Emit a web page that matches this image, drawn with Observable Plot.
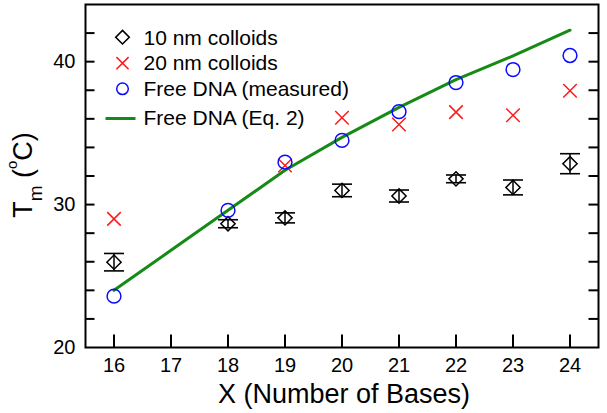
<!DOCTYPE html>
<html><head><meta charset="utf-8">
<script src="https://cdn.jsdelivr.net/npm/d3@7"></script>
<script src="https://cdn.jsdelivr.net/npm/@observablehq/plot@0.6"></script>
<style>body{margin:0;background:#fff}</style>
</head><body><div id="chart"></div>
<script>
// ---- data ----
const bases = [16, 18, 19, 20, 21, 22, 23, 24];
const tm10 = [25.97, 28.66, 29.07, 30.99, 30.6, 31.8, 31.2, 32.86];
const tm10Err = [0.61, 0.28, 0.35, 0.44, 0.42, 0.27, 0.52, 0.7];
const bases20 = [16, 19, 20, 21, 22, 23, 24];
const tm20 = [29.0, 32.74, 36.07, 35.6, 36.47, 36.25, 37.96];
const tmFree = [23.59, 29.59, 32.97, 34.49, 36.5, 38.54, 39.45, 40.43];
const basesEq = [16, 17, 18, 19, 20, 21, 22, 23, 24];
const tmEq = [24.0, 26.8, 29.6, 32.4, 34.7, 36.8, 38.75, 40.4, 42.2];
const xTicks = [16, 17, 18, 19, 20, 21, 22, 23, 24];
const yTicks = [22, 24, 26, 28, 30, 32, 34, 36, 38, 40, 42];
const yLabels = [20, 30, 40];
const legendLabels = ["10 nm colloids", "20 nm colloids", "Free DNA (measured)", "Free DNA (Eq. 2)"];

// ---- tables ----
const d10 = bases.map((x, i) => ({x, y: tm10[i], lo: tm10[i] - tm10Err[i], hi: tm10[i] + tm10Err[i]}));
const d20 = bases20.map((x, i) => ({x, y: tm20[i]}));
const dFree = bases.map((x, i) => ({x, y: tmFree[i]}));
const dEq = basesEq.map((x, i) => ({x, y: tmEq[i]}));

const seg = (dx, dy) => ({draw(ctx) { ctx.moveTo(0, 0); ctx.lineTo(dx, dy); }});
const hbar = (w) => ({draw(ctx) { ctx.moveTo(-w, 0); ctx.lineTo(w, 0); }});

const RED = "#ff1a1a", BLUE = "#0a0aff", GREEN = "#168a16";

const legendSym = [
  {symbol: "diamond2", r: 6.1, stroke: "black", strokeWidth: 1.6},
  {symbol: "times", r: 5.6, stroke: RED, strokeWidth: 1.5},
  {symbol: "circle", r: 5.8, stroke: BLUE, strokeWidth: 1.5},
  {symbol: hbar(15), r: 3, stroke: GREEN, strokeWidth: 3}
];
const symRowDy = [32.7, 58.7, 84.3, 114];
const textRowDy = [33.8, 58.8, 84.9, 113.8];

const legendMarks = legendLabels.flatMap((lab, i) => [
  Plot.dot([lab], {frameAnchor: "top-left", dx: i === 3 ? 35 : 37, dy: symRowDy[i], fill: "none", ...legendSym[i]}),
  Plot.text([lab], {text: d => d, frameAnchor: "top-left", dx: 58, dy: textRowDy[i], textAnchor: "start", lineAnchor: "middle", fontSize: 21, fill: "black"})
]);

const chart = Plot.plot({
  width: 607, height: 413,
  marginLeft: 85, marginRight: 9, marginTop: 4, marginBottom: 66,
  x: {domain: [15.5, 24.5]},
  y: {domain: [20, 44]},
  style: {fontFamily: "'Liberation Sans', Arial, sans-serif", fontSize: "20px", color: "black", background: "white"},
  marks: [
    Plot.axisX(xTicks, {tickSize: 0, tickPadding: 10, label: null, fontSize: 20}),
    Plot.axisY(yLabels, {tickSize: 0, tickPadding: 10, label: null, fontSize: 20}),
    Plot.dot(yTicks, {y: d => d, frameAnchor: "left", symbol: seg(9, 0), stroke: "black", strokeWidth: 2, fill: "none"}),
    Plot.dot(yTicks, {y: d => d, frameAnchor: "right", symbol: seg(-10, 0), stroke: "black", strokeWidth: 2, fill: "none"}),
    Plot.dot(xTicks, {x: d => d, frameAnchor: "bottom", symbol: seg(0, -13), stroke: "black", strokeWidth: 2, fill: "none"}),
    Plot.line(dEq, {x: "x", y: "y", stroke: GREEN, strokeWidth: 3}),
    Plot.ruleX(d10, {x: "x", y1: "lo", y2: "hi", stroke: "black", strokeWidth: 1.5}),
    Plot.dot(d10, {x: "x", y: "lo", symbol: hbar(10), stroke: "black", strokeWidth: 1.6, fill: "none"}),
    Plot.dot(d10, {x: "x", y: "hi", symbol: hbar(10), stroke: "black", strokeWidth: 1.6, fill: "none"}),
    Plot.dot(d10, {x: "x", y: "y", symbol: "diamond2", r: 6.4, stroke: "black", strokeWidth: 1.5, fill: "none"}),
    Plot.dot(d20, {x: "x", y: "y", symbol: "times", r: 6.2, stroke: RED, strokeWidth: 1.5, fill: "none"}),
    Plot.dot(dFree, {x: "x", y: "y", symbol: "circle", r: 6.9, stroke: BLUE, strokeWidth: 1.5, fill: "none"}),
    Plot.frame({stroke: "black", strokeWidth: 2}),
    Plot.text(["X (Number of Bases)"], {text: d => d, frameAnchor: "bottom", dx: 2, dy: 55, lineAnchor: "bottom", fontSize: 27, fill: "black"}),
    ...legendMarks
  ]
});
document.getElementById("chart").appendChild(chart);

// y-axis title with subscript / superscript
const svg = d3.select(chart);
const t = svg.append("text")
  .attr("transform", "translate(32,175) rotate(-90)")
  .attr("text-anchor", "middle")
  .attr("font-family", "'Liberation Sans', Arial, sans-serif")
  .attr("font-size", 27)
  .attr("fill", "black");
t.append("tspan").text("T");
t.append("tspan").attr("font-size", 19).attr("dy", 10).text("m");
t.append("tspan").attr("dy", -10).text(" (");
t.append("tspan").attr("font-size", 15).attr("dy", -15).text("o");
t.append("tspan").attr("dy", 15).text("C)");
</script>
</body></html>
